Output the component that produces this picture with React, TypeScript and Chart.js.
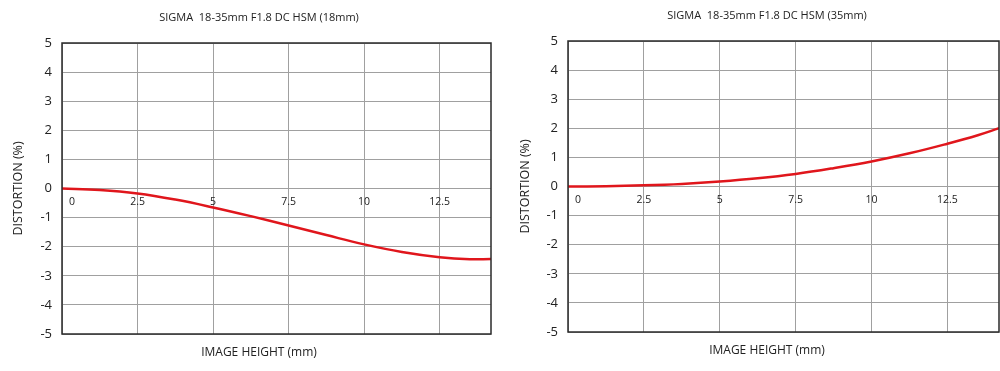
import React, { useEffect, useRef } from "react";
import { Chart, registerables } from "chart.js";

Chart.register(...registerables);

// ---- data ----
const imageHeight = [0, 1.25, 2.5, 3.75, 5, 6.25, 7.5, 8.75, 10, 11.25, 12.5, 13.5, 14.2];
const distortion18 = [0, -0.05, -0.17, -0.38, -0.65, -0.95, -1.27, -1.6, -1.92, -2.18, -2.36, -2.43, -2.42];
const distortion35 = [0, 0.01, 0.04, 0.09, 0.17, 0.28, 0.43, 0.63, 0.86, 1.14, 1.47, 1.76, 2.0];
const xTickValues = [0, 2.5, 5, 7.5, 10, 12.5];
const xTickLabels = ["0", "2.5", "5", "7.5", "10", "12.5"];
const chartTitles = ["SIGMA  18-35mm F1.8 DC HSM (18mm)", "SIGMA  18-35mm F1.8 DC HSM (35mm)"];
const xAxisTitle = "IMAGE HEIGHT (mm)";
const yAxisTitle = "DISTORTION (%)";
const xMax = 14.2;
const yMin = -5;
const yMax = 5;

const FONT = "'Open Sans', 'Noto Sans', sans-serif";
const TEXT = "#222";

type PanelCfg = {
  values: number[];
  title: string;
  padTop: number;
  padRight: number;
  yWidth: number;
  xHeight: number;
  titleX: number;
  titleY: number;
  xTitleY: number;
  yTitleX: number;
};

const panels: PanelCfg[] = [
  { values: distortion18, title: chartTitles[0], padTop: 43, padRight: 9, yWidth: 62, xHeight: 37, titleX: 259, titleY: 18, xTitleY: 353, yTitleX: 18 },
  { values: distortion35, title: chartTitles[1], padTop: 41, padRight: 1, yWidth: 68, xHeight: 39, titleX: 267, titleY: 16, xTitleY: 351, yTitleX: 25 },
];

function Panel({ cfg, left }: { cfg: PanelCfg; left: number }) {
  const ref = useRef<HTMLCanvasElement | null>(null);
  useEffect(() => {
    if (!ref.current) return;
    const textPlugin = {
      id: "texts",
      afterDraw(chart: any) {
        const ctx = chart.ctx;
        const area = chart.chartArea;
        const xs = chart.scales.x;
        const ys = chart.scales.y;
        ctx.save();
        // frame
        ctx.strokeStyle = "#2a2a2a";
        ctx.lineWidth = 1.5;
        ctx.strokeRect(area.left, area.top, area.right - area.left, area.bottom - area.top);
        ctx.fillStyle = TEXT;
        ctx.textBaseline = "middle";
        ctx.textAlign = "center";
        // x tick labels inside the plot, below zero line
        ctx.font = `10.5px ${FONT}`;
        const y0 = ys.getPixelForValue(0) + 14;
        xTickValues.forEach((v, i) => {
          let px = xs.getPixelForValue(v);
          if (v === 0) px += 10;
          ctx.fillText(xTickLabels[i], px, y0);
        });
        // chart title
        ctx.font = `11px ${FONT}`;
        ctx.fillText(cfg.title, cfg.titleX, cfg.titleY);
        // x axis title
        ctx.font = `12px ${FONT}`;
        ctx.fillText(xAxisTitle, cfg.titleX, cfg.xTitleY);
        // y axis title
        ctx.font = `12.5px ${FONT}`;
        ctx.translate(cfg.yTitleX, (area.top + area.bottom) / 2);
        ctx.rotate(-Math.PI / 2);
        ctx.fillText(yAxisTitle, 0, 0);
        ctx.restore();
      },
    };
    const chart = new Chart(ref.current, {
      type: "line",
      data: {
        datasets: [
          {
            data: imageHeight.map((x, i) => ({ x, y: cfg.values[i] })),
            borderColor: "#e0161c",
            borderWidth: 2.5,
            pointRadius: 0,
            fill: false,
            tension: 0.4,
          },
        ],
      },
      options: {
        responsive: false,
        animation: false,
        layout: { padding: { top: cfg.padTop, right: cfg.padRight, left: 0, bottom: 0 } },
        plugins: { legend: { display: false }, tooltip: { enabled: false }, title: { display: false } },
        scales: {
          x: {
            type: "linear",
            min: 0,
            max: xMax,
            afterFit: (s: any) => { s.height = cfg.xHeight; },
            ticks: { stepSize: 2.5, display: false, includeBounds: false },
            grid: { color: "#a0a0a0", lineWidth: 1, drawTicks: false },
            border: { display: false },
          },
          y: {
            min: yMin,
            max: yMax,
            afterFit: (s: any) => { s.width = cfg.yWidth; },
            ticks: { stepSize: 1, padding: 10, color: TEXT, font: { family: FONT, size: 13 } },
            grid: { color: "#a0a0a0", lineWidth: 1, drawTicks: false },
            border: { display: false },
          },
        },
      },
      plugins: [textPlugin],
    } as any);
    return () => chart.destroy();
  }, [cfg]);
  return (
    <canvas
      ref={ref}
      width={500}
      height={371}
      style={{ position: "absolute", left, top: 0, width: 500, height: 371 }}
    />
  );
}

export default function App() {
  return (
    <div style={{ position: "fixed", left: 0, top: 0, width: 1000, height: 371, background: "#fff" }}>
      <Panel cfg={panels[0]} left={0} />
      <Panel cfg={panels[1]} left={500} />
    </div>
  );
}
